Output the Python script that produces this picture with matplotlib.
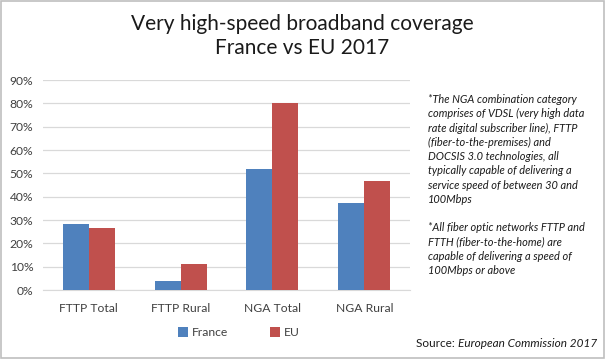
import matplotlib
matplotlib.use("Agg")
import matplotlib.pyplot as plt
import numpy as np
from matplotlib.patches import Rectangle

categories = ["FTTP Total", "FTTP Rural", "NGA Total", "NGA Rural"]
france = [28.3, 4.0, 51.9, 37.3]
eu = [26.6, 11.3, 80.1, 46.7]
yticks = [0, 10, 20, 30, 40, 50, 60, 70, 80, 90]
series_names = ["France", "EU"]
colors = ["#4F81BD", "#C0504D"]

plt.rcParams['font.family'] = ['Lato', 'DejaVu Sans']

fig = plt.figure(figsize=(6.05, 3.59), dpi=100)
ax = fig.add_axes([0.071, 0.192, 0.607, 0.585])

x = np.arange(len(categories))
w = 0.283
ax.bar(x - w/2, france, w, color=colors[0], label=series_names[0], zorder=3)
ax.bar(x + w/2, eu, w, color=colors[1], label=series_names[1], zorder=3)

ax.set_xlim(-0.5, len(categories) - 0.5)
ax.set_ylim(0, 90)
ax.set_yticks(yticks)
ax.set_yticklabels([f"{v}%" for v in yticks], fontsize=8.7, color="#404040")
ax.set_xticks(x)
ax.set_xticklabels(categories, fontsize=8.7, color="#404040")
ax.yaxis.grid(True, color="#D9D9D9", linewidth=0.9, zorder=0)
for s in ["top", "right", "left"]:
    ax.spines[s].set_visible(False)
ax.spines["bottom"].set_color("#D9D9D9")
ax.tick_params(axis="x", length=0, pad=9)
ax.tick_params(axis="y", length=0, pad=7)

fig.text(0.5, 0.9, "Very high-speed broadband coverage\nFrance vs EU 2017",
         ha="center", va="center", fontsize=15, color="#1a1a1a", linespacing=1.3)

note = ("*The NGA combination category\ncomprises of VDSL (very high data\n"
        "rate digital subscriber line), FTTP\n(fiber-to-the-premises) and\n"
        "DOCSIS 3.0 technologies, all\ntypically capable of delivering a\n"
        "service speed of between 30 and\n100Mbps\n\n"
        "*All fiber optic networks FTTP and\nFTTH (fiber-to-the-home) are\n"
        "capable of delivering a speed of\n100Mbps or above")
fig.text(0.707, 0.738, note, ha="left", va="top", fontsize=7.9, style="italic",
         color="#1a1a1a", linespacing=1.36)

leg = fig.legend(loc="center", bbox_to_anchor=(0.395, 0.073), ncol=2, frameon=False,
                 fontsize=8.7, handlelength=0.8, handleheight=0.8, columnspacing=3.45,
                 handletextpad=0.35)
for t in leg.get_texts():
    t.set_color("#404040")

fig.text(0.987, 0.044, "Source: ", ha="right", va="center", fontsize=8.5, color="#1a1a1a")
src = fig.text(0.987, 0.044, "European Commission 2017", ha="right", va="center",
               fontsize=8.5, style="italic", color="#1a1a1a")
fig.canvas.draw()
bb = src.get_window_extent()
fig.texts[-2].set_x(bb.x0 / fig.bbox.width)

fig.patches.append(Rectangle((0.001, 0.002), 0.997, 0.995, transform=fig.transFigure,
                             fill=False, edgecolor="#BFBFBF", linewidth=1.2))

fig.savefig("out.png", dpi=100)
